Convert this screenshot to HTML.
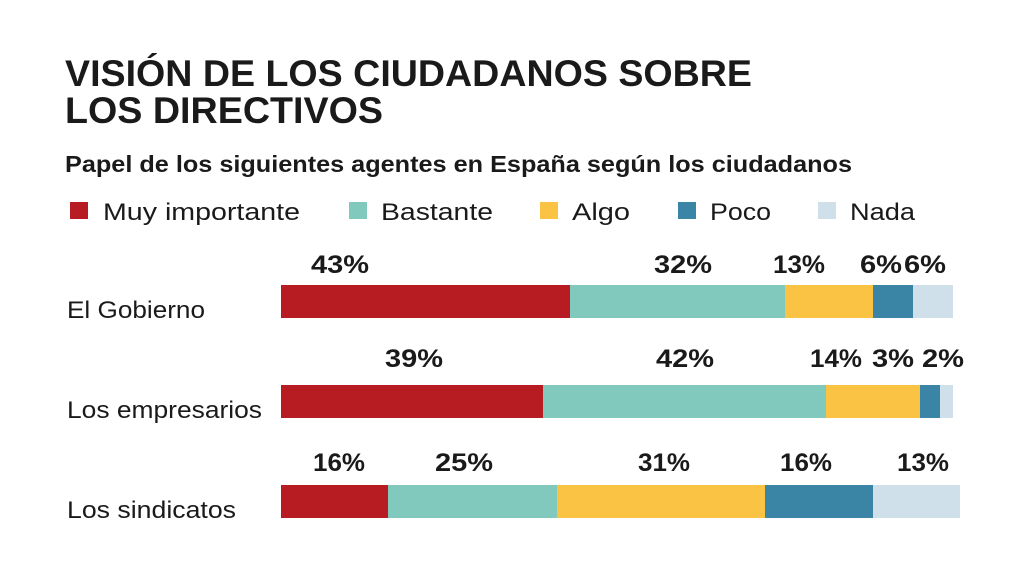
<!DOCTYPE html>
<html><head><meta charset="utf-8"><style>
html,body{margin:0;padding:0;background:#fff;}
svg{display:block;}
text{font-family:"Liberation Sans",sans-serif;fill:#1a1a1a;}
.t{font-weight:bold;font-size:37px;}
.s{font-weight:bold;font-size:23px;}
.l{font-size:24px;}
.p{font-weight:bold;font-size:25px;text-anchor:middle;}
</style></head><body>
<svg width="1028" height="578" viewBox="0 0 1028 578">
<text class="t" x="65" y="86" textLength="687" lengthAdjust="spacingAndGlyphs">VISIÓN DE LOS CIUDADANOS SOBRE</text>
<text class="t" x="65" y="123" textLength="318" lengthAdjust="spacingAndGlyphs">LOS DIRECTIVOS</text>
<text class="s" x="65" y="172" textLength="787" lengthAdjust="spacingAndGlyphs">Papel de los siguientes agentes en España según los ciudadanos</text>
<rect x="70" y="202" width="18" height="17" fill="#b71c22"/>
<text class="l" x="103" y="220" textLength="197" lengthAdjust="spacingAndGlyphs">Muy importante</text>
<rect x="349" y="202" width="18" height="17" fill="#82c9bd"/>
<text class="l" x="381" y="220" textLength="112" lengthAdjust="spacingAndGlyphs">Bastante</text>
<rect x="540" y="202" width="18" height="17" fill="#fbc343"/>
<text class="l" x="572" y="220" textLength="58" lengthAdjust="spacingAndGlyphs">Algo</text>
<rect x="678" y="202" width="18" height="17" fill="#3a84a6"/>
<text class="l" x="710" y="220" textLength="61" lengthAdjust="spacingAndGlyphs">Poco</text>
<rect x="818" y="202" width="18" height="17" fill="#cfe0ea"/>
<text class="l" x="850" y="220" textLength="65" lengthAdjust="spacingAndGlyphs">Nada</text>

<text class="l" x="67" y="318" textLength="138" lengthAdjust="spacingAndGlyphs">El Gobierno</text>
<text class="l" x="67" y="418" textLength="195" lengthAdjust="spacingAndGlyphs">Los empresarios</text>
<text class="l" x="67" y="518" textLength="169" lengthAdjust="spacingAndGlyphs">Los sindicatos</text>

<g>
<rect x="281" y="285" width="289" height="33" fill="#b71c22"/>
<rect x="570" y="285" width="215" height="33" fill="#82c9bd"/>
<rect x="785" y="285" width="88" height="33" fill="#fbc343"/>
<rect x="873" y="285" width="40" height="33" fill="#3a84a6"/>
<rect x="913" y="285" width="40" height="33" fill="#cfe0ea"/>
</g>
<g>
<rect x="281" y="385" width="262" height="33" fill="#b71c22"/>
<rect x="543" y="385" width="283" height="33" fill="#82c9bd"/>
<rect x="826" y="385" width="94" height="33" fill="#fbc343"/>
<rect x="920" y="385" width="20" height="33" fill="#3a84a6"/>
<rect x="940" y="385" width="13" height="33" fill="#cfe0ea"/>
</g>
<g>
<rect x="281" y="485" width="107" height="33" fill="#b71c22"/>
<rect x="388" y="485" width="169" height="33" fill="#82c9bd"/>
<rect x="557" y="485" width="208" height="33" fill="#fbc343"/>
<rect x="765" y="485" width="108" height="33" fill="#3a84a6"/>
<rect x="873" y="485" width="87" height="33" fill="#cfe0ea"/>
</g>

<g>
<text class="p" x="340" y="273" textLength="58" lengthAdjust="spacingAndGlyphs">43%</text>
<text class="p" x="683" y="273" textLength="58" lengthAdjust="spacingAndGlyphs">32%</text>
<text class="p" x="799" y="273" textLength="52" lengthAdjust="spacingAndGlyphs">13%</text>
<text class="p" x="881" y="273" textLength="42" lengthAdjust="spacingAndGlyphs">6%</text>
<text class="p" x="925" y="273" textLength="42" lengthAdjust="spacingAndGlyphs">6%</text>

<text class="p" x="414" y="367" textLength="58" lengthAdjust="spacingAndGlyphs">39%</text>
<text class="p" x="685" y="367" textLength="58" lengthAdjust="spacingAndGlyphs">42%</text>
<text class="p" x="836" y="367" textLength="52" lengthAdjust="spacingAndGlyphs">14%</text>
<text class="p" x="893" y="367" textLength="42" lengthAdjust="spacingAndGlyphs">3%</text>
<text class="p" x="943" y="367" textLength="42" lengthAdjust="spacingAndGlyphs">2%</text>

<text class="p" x="339" y="471" textLength="52" lengthAdjust="spacingAndGlyphs">16%</text>
<text class="p" x="464" y="471" textLength="58" lengthAdjust="spacingAndGlyphs">25%</text>
<text class="p" x="664" y="471" textLength="52" lengthAdjust="spacingAndGlyphs">31%</text>
<text class="p" x="806" y="471" textLength="52" lengthAdjust="spacingAndGlyphs">16%</text>
<text class="p" x="923" y="471" textLength="52" lengthAdjust="spacingAndGlyphs">13%</text>
</g>
</svg>
</body></html>
